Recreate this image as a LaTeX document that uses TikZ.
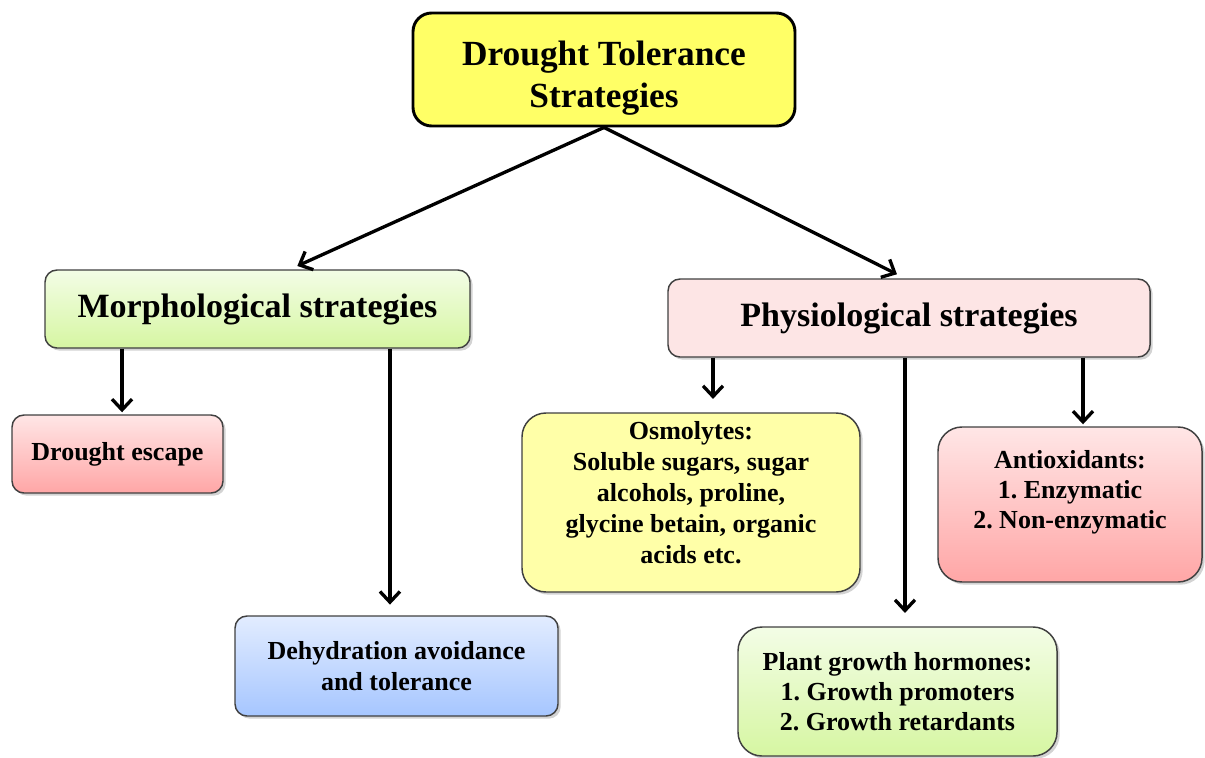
\documentclass[tikz,border=0pt]{standalone}
\usepackage{fontspec}
\setmainfont{Liberation Serif}
\usetikzlibrary{arrows.meta,calc,shadows}
\frenchspacing

\definecolor{tolfill}{HTML}{FFFF66}
\definecolor{greentop}{HTML}{F3FDE6}
\definecolor{greenbot}{HTML}{D6F6A2}
\definecolor{pinkfill}{HTML}{FDE5E5}
\definecolor{redtop}{HTML}{FFE6E6}
\definecolor{redbot}{HTML}{FFA6A6}
\definecolor{bluetop}{HTML}{E2ECFF}
\definecolor{bluebot}{HTML}{A6C6FF}
\definecolor{osmofill}{HTML}{FFFFA8}

\tikzset{
  box/.style={draw=black!75, line width=1.1pt, rounded corners=9pt, align=center, inner sep=0pt,
    font=\fontsize{19.5}{23.25}\selectfont\bfseries,
    drop shadow={shadow xshift=2pt, shadow yshift=-2pt, opacity=.35}},
  bigbox/.style={box, rounded corners=18pt},
  headbox/.style={box, minimum height=58.5pt, font=\fontsize{25.5}{30}\selectfont\bfseries},
  arr/.style={-{Straight Barb[length=8pt,width=15pt]}, line width=2.5pt},
}

\begin{document}
\begin{tikzpicture}[x=0.75pt,y=-0.75pt]
\useasboundingbox (0,0) rectangle (1205,757);

\node[draw=black, line width=2.2pt, rounded corners=14pt, fill=tolfill, align=center, inner sep=0pt, minimum width=286.5pt, minimum height=84.75pt, font=\fontsize{26.5}{31.5}\selectfont\bfseries] (tol) at (604,69.5) {\rule{0pt}{31pt}Drought Tolerance\\Strategies};

\node[headbox, top color=greentop, bottom color=greenbot, minimum width=318.75pt] (morph) at (257.5,309) {Morphological strategies};
\node[headbox, fill=pinkfill, minimum width=361.5pt] (phys) at (909,318) {Physiological strategies};

\node[box, top color=redtop, bottom color=redbot, minimum width=158.25pt, minimum height=58.5pt] (escape) at (117.5,454) {Drought escape};
\node[box, top color=bluetop, bottom color=bluebot, minimum width=242.25pt, minimum height=75pt] (dehyd) at (396.5,666) {Dehydration avoidance\\and tolerance};

\node[bigbox, fill=osmofill, minimum width=253.5pt, minimum height=134.25pt] (osmo) at (691,502.5) {Osmolytes:\\Soluble sugars, sugar\\alcohols, proline,\\glycine betain, organic\\acids etc.\rule[-15pt]{0pt}{0pt}};
\node[bigbox, top color=redtop, bottom color=redbot, minimum width=198pt, minimum height=116.25pt, font=\fontsize{19.5}{22.5}\selectfont\bfseries] (anti) at (1070,504.5) {Antioxidants:\\1. Enzymatic\\2. Non-enzymatic\rule[-22pt]{0pt}{0pt}};
\node[bigbox, top color=greentop, bottom color=greenbot, minimum width=239.25pt, minimum height=96.75pt, font=\fontsize{19.5}{22.5}\selectfont\bfseries] (plant) at (897.5,691.5) {Plant growth hormones:\\1. Growth promoters\\2. Growth retardants};

\draw[arr, shorten >=6pt] (tol.south) -- ([xshift=24.4pt]morph.north);
\draw[arr, shorten >=6.75pt] (tol.south) -- ([xshift=-3pt]phys.north);

\draw[arr, shorten >=1.5pt] ($(morph.south -| escape.north)+(3.4pt,0)$) -- ([xshift=3.4pt]escape.north);
\draw[arr, shorten >=8pt] ($(morph.south -| dehyd.north)+(-4.9pt,0)$) -- ([xshift=-4.9pt]dehyd.north);
\draw[arr, shorten >=10pt] ($(phys.south -| osmo.north)+(16.5pt,0)$) -- ([xshift=16.5pt]osmo.north);
\draw[arr, shorten >=10pt] ($(phys.south -| plant.north)+(5.6pt,0)$) -- ([xshift=5.6pt]plant.north);
\draw[arr, shorten >=1.5pt] ($(phys.south -| anti.north)+(9.75pt,0)$) -- ([xshift=9.75pt]anti.north);
\end{tikzpicture}
\end{document}
